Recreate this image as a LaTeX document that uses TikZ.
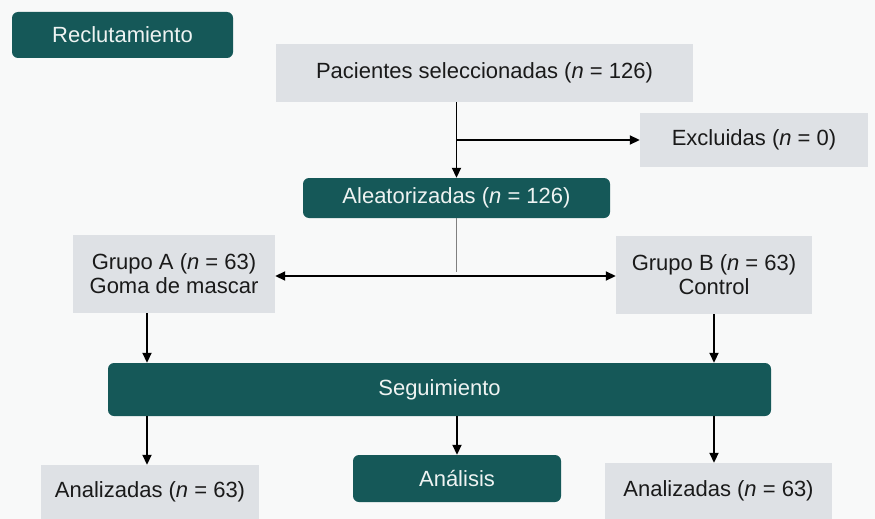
\documentclass[tikz,border=0pt]{standalone}
\usepackage{fontspec}
\setmainfont{Liberation Sans}
\usetikzlibrary{arrows.meta}
\definecolor{tealc}{HTML}{155858}
\definecolor{grayc}{HTML}{DEE1E5}
\definecolor{bgc}{HTML}{F8F9F9}
\definecolor{txt}{HTML}{1A1A1A}
\definecolor{ltxt}{HTML}{EEF3F2}
\begin{document}
\begin{tikzpicture}[x=1pt,y=-1pt,
  base/.style={inner sep=0pt, align=center, font=\fontsize{22}{24}\selectfont},
  tealbox/.style={base, fill=tealc, rounded corners=6pt, text=ltxt},
  graybox/.style={base, fill=grayc, text=txt},
  arr/.style={-{Triangle[length=10pt,width=9pt]}, line width=1.8pt, black},
  darr/.style={{Triangle[length=10pt,width=9pt]}-{Triangle[length=10pt,width=9pt]}, line width=1.8pt, black},
  thin gray/.style={line width=0.9pt, draw=gray}]
\fill[bgc] (0,0) rectangle (875,519);
\useasboundingbox (0,0) rectangle (875,519);
\node[tealbox, minimum width=221pt, minimum height=46pt] (rec) at (122.5,35) {Reclutamiento};
\node[graybox, minimum width=417pt, minimum height=58pt] (pac) at (484.5,73) {Pacientes seleccionadas (\textit{n} = 126)};
\node[graybox, minimum width=228pt, minimum height=54pt] (exc) at (754,140) {Excluidas (\textit{n} = 0)};
\node[tealbox, minimum width=307pt, minimum height=40pt] (ale) at (456.5,198) {Aleatorizadas (\textit{n} = 126)};
\node[graybox, minimum width=202pt, minimum height=78pt] (ga) at (174,274) {Grupo A (\textit{n} = 63)\\Goma de mascar};
\node[graybox, minimum width=196pt, minimum height=78pt] (gb) at (714,275) {Grupo B (\textit{n} = 63)\\Control};
\node[tealbox, minimum width=663pt, minimum height=53pt] (seg) at (439.5,389.5) {Seguimiento};
\node[graybox, minimum width=218pt, minimum height=54pt] (anl) at (150,492) {Analizadas (\textit{n} = 63)};
\node[tealbox, minimum width=208pt, minimum height=47pt] (ana) at (457,478.5) {Análisis};
\node[graybox, minimum width=227pt, minimum height=56pt] (anr) at (718.5,491) {Analizadas (\textit{n} = 63)};
% connectors
\draw[arr] (ale.north |- pac.south) -- (ale.north);
\draw[arr] (ale.north |- exc.west) -- (exc.west);
\coordinate (mid) at (456,272);
\draw[thin gray] (ale.south -| mid) -- (mid);
\draw[darr] ([yshift=-2pt]ga.east) -- ([yshift=-1pt]gb.west);
\coordinate (xa) at (147,0);
\coordinate (xb) at (714,0);
\coordinate (xm) at (457,0);
\draw[arr] (ga.south -| xa) -- (seg.north -| xa);
\draw[arr] (gb.south -| xb) -- (seg.north -| xb);
\draw[arr] (seg.south -| xa) -- (anl.north -| xa);
\draw[arr] (seg.south -| xm) -- (ana.north);
\draw[arr] (seg.south -| xb) -- (anr.north -| xb);
\end{tikzpicture}
\end{document}
